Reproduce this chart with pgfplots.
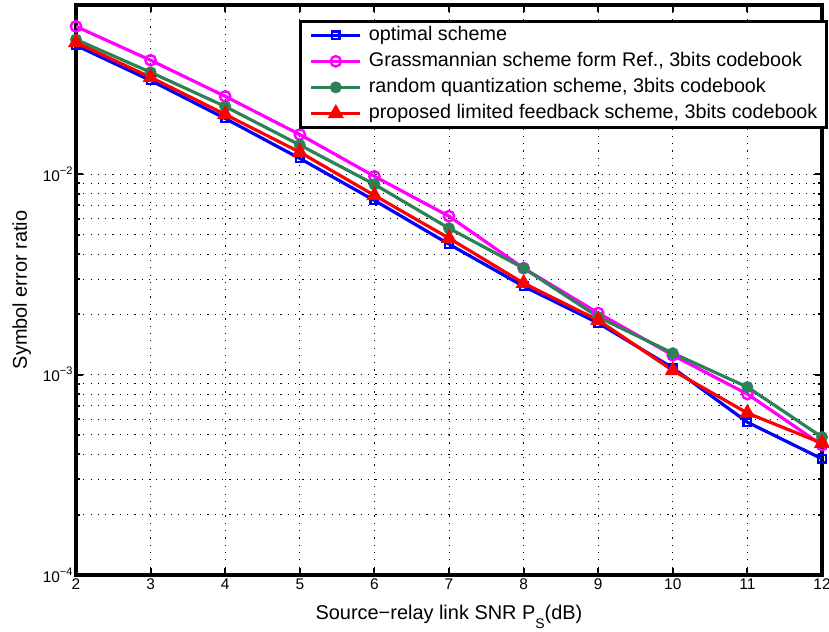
\documentclass[border=0pt]{standalone}
\usepackage{fontspec}
\setmainfont{Liberation Sans}
\usepackage{pgfplots}
\pgfplotsset{compat=1.18}
\definecolor{mgreen}{RGB}{44,130,85}
\definecolor{mmagenta}{RGB}{255,0,255}
\definecolor{mblue}{RGB}{0,0,255}
\definecolor{mred}{RGB}{255,0,0}
\newcommand{\tenpow}[1]{10\raisebox{7bp}{\fontsize{11}{11}\selectfont #1}}
\newcommand{\lowsub}[1]{\raisebox{-9bp}{\fontsize{14}{14}\selectfont #1}}

\begin{document}
\begin{tikzpicture}
\path[use as bounding box] (-76bp,-57bp) rectangle (753bp,575bp);
\begin{axis}[
  at={(0,0)}, anchor=south west,
  scale only axis, width=746bp, height=570bp,
  ymode=log, xmin=2, xmax=12, ymin=1e-4, ymax=0.07,
  xtick={2,...,12}, xticklabels={2,3,4,5,6,7,8,9,10,11,12},
  ytick={1e-4,1e-3,1e-2},
  yticklabels={\tenpow{−4},\tenpow{−3},\tenpow{−2}},
  tick label style={font=\fontsize{15.5}{17}\selectfont},
  label style={font=\fontsize{20}{24}\selectfont},
  xlabel={Source−relay link SNR P\lowsub{S}(dB)},
  ylabel={Symbol error ratio},
  xlabel style={at={(axis description cs:0.5,-0.0789)}, anchor=base},
  ylabel style={at={(axis description cs:-0.0657,0.5)}, anchor=base},
  axis line style={line width=3.6bp},
  every outer x axis line/.append style={line width=3.6bp},
  every outer y axis line/.append style={line width=3.6bp},
  tick style={black, line width=2bp},
  major tick length=7bp, minor tick length=4bp,
  tick align=inside,
  xmajorgrids, ymajorgrids, yminorgrids,
  major grid style={black, line width=1bp, dash pattern=on 1.2bp off 6.1bp},
  minor grid style={black, line width=1bp, dash pattern=on 1.2bp off 6.1bp},
  legend cell align=left,
  legend image code/.code={\draw[mark repeat=2,mark phase=2,#1] plot coordinates {(0bp,0bp) (24.5bp,0bp) (49bp,0bp)};},
  legend style={at={(axis description cs:1.00804,0.97368)}, anchor=north east,
    draw=black, line width=3.2bp, fill=white,
    font=\fontsize{19.8}{24}\selectfont,
    inner xsep=9bp, inner ysep=4bp, row sep=6.5bp,
    nodes={inner xsep=0bp, inner ysep=0bp, text height=14.5bp, text depth=5bp},
    /tikz/every odd column/.append style={column sep=7bp}},
]
\addplot[mblue, line width=3.2bp, mark=square, mark size=3.8bp, mark options={solid, line width=2.4bp}]
  coordinates {(2,0.0440) (3,0.0294) (4,0.0190) (5,0.0120) (6,0.00741) (7,0.00448)
               (8,0.00276) (9,0.00181) (10,0.00108) (11,0.000579) (12,0.000380)};
\addlegendentry{optimal scheme}
\addplot[mmagenta, line width=3.2bp, mark=o, mark size=5.2bp, mark options={solid, line width=2.4bp}]
  coordinates {(2,0.0547) (3,0.0371) (4,0.0245) (5,0.0158) (6,0.00977) (7,0.00618)
               (8,0.00340) (9,0.00203) (10,0.00125) (11,0.000800) (12,0.000445)};
\addlegendentry{Grassmannian scheme form Ref., 3bits codebook}
\addplot[mgreen, line width=3.2bp, mark=*, mark size=4.3bp, mark options={solid, fill=mgreen}]
  coordinates {(2,0.0471) (3,0.0323) (4,0.0218) (5,0.0140) (6,0.00891) (7,0.00538)
               (8,0.00340) (9,0.00194) (10,0.00128) (11,0.000867) (12,0.000488)};
\addlegendentry{random quantization scheme, 3bits codebook}
\addplot[mred, line width=3.2bp, mark=triangle*, mark size=7.5bp, mark options={solid, fill=mred, line width=1.8bp}]
  coordinates {(2,0.0455) (3,0.0305) (4,0.0199) (5,0.0129) (6,0.00785) (7,0.00480)
               (8,0.00286) (9,0.00187) (10,0.00105) (11,0.000643) (12,0.000455)};
\addlegendentry{proposed limited feedback scheme, 3bits codebook}
\end{axis}
\end{tikzpicture}
\end{document}
